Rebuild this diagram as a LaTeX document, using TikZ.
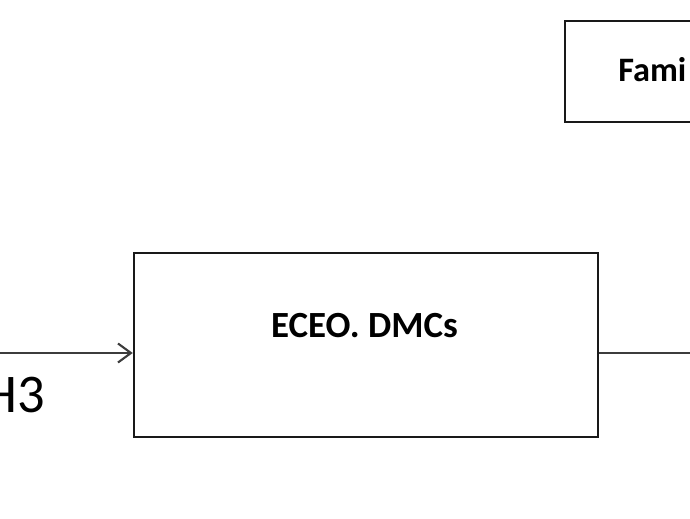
\documentclass[tikz,border=0pt]{standalone}
\usepackage{fontspec}
\setmainfont{Carlito}
\usepackage{tikz}
\usetikzlibrary{calc,arrows.meta}
\definecolor{boxgray}{RGB}{25, 25, 25}
\definecolor{linegray}{RGB}{60, 60, 60}

\begin{document}
\begin{tikzpicture}[
  blockbox/.style={draw=boxgray, line width=1.4pt, inner sep=0pt},
  flow/.style={draw=linegray, line width=1pt},
  tip/.style={-{Straight Barb[length=0.26cm,width=0.38cm,line width=1.2pt]}}
]
% Page frame and clipping
\useasboundingbox (0,0) rectangle (13.8,10.36);
\clip (0,0) rectangle (13.8,10.36);

% Blocks
\node[blockbox, minimum width=9.28cm, minimum height=3.68cm] (eceo) at (7.32,3.46) {};
\node[font=\bfseries\fontsize{21}{24}\selectfont, anchor=base, inner sep=0pt] (eceotext) at (7.29,3.62) {ECEO. DMCs};
\node[blockbox, minimum width=6cm, minimum height=2.02cm, anchor=west] (fami) at (11.28,8.93) {};
\node[font=\bfseries\fontsize{19.5}{22}\selectfont, anchor=base west, inner sep=0pt] (famitext) at (12.36,8.72) {Fami};

% Connectors
\coordinate (infrom) at (0,3.30);
\coordinate (inpt) at ($(eceo.west)+(0,-0.16)$);
\coordinate (outpt) at ($(eceo.east)+(0,-0.16)$);
\coordinate (outto) at (13.8,3.30);
\draw[flow, tip] (infrom) -- (inpt);
\draw[flow] (outpt) -- (outto);

\node[font=\fontsize{31}{34}\selectfont, anchor=base east, inner sep=0pt] (hthree) at (0.9,2.12) {H3};
\end{tikzpicture}
\end{document}
